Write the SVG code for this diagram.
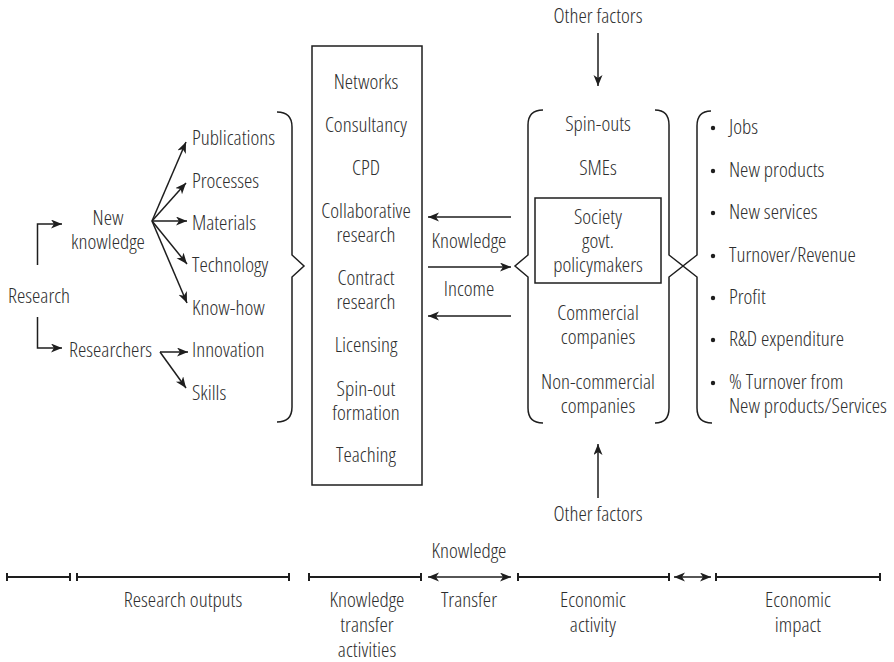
<svg xmlns="http://www.w3.org/2000/svg" width="894" height="662" viewBox="0 0 894 662">
<style>
text{font-family:"Open Sans","Liberation Sans",sans-serif;font-size:19.5px;font-weight:300;font-stretch:condensed;fill:#2e2e2e;transform-box:fill-box;transform-origin:0 50%;transform:scaleX(1.08)}
.m{text-anchor:middle;transform-origin:50% 50%}
.ln{fill:none;stroke:#1e1e1e;stroke-width:1.5}
.tl{fill:none;stroke:#1e1e1e;stroke-width:2}
</style>
<defs>
<marker id="ah" markerUnits="userSpaceOnUse" markerWidth="12" markerHeight="10" refX="11" refY="4.5" orient="auto-start-reverse">
<path d="M0,0 L11,4.5 L0,9 L3,4.5 z" fill="#1e1e1e"/>
</marker>
</defs>
<g id="research"><text x="8" y="303">Research</text></g>
<g id="new-knowledge"><text class="m" x="108" y="225">New</text><text class="m" x="108" y="249">knowledge</text></g>
<g id="researchers"><text x="69" y="357">Researchers</text></g>
<g id="outputs">
<text x="192" y="145">Publications</text>
<text x="192" y="188">Processes</text>
<text x="192" y="230">Materials</text>
<text x="192" y="272">Technology</text>
<text x="192" y="315">Know-how</text>
<text x="192" y="357">Innovation</text>
<text x="192" y="400">Skills</text>
<path class="ln" d="M277,112 Q292,112 292,127 L292,255 L304,266 L292,277 L292,407 Q292,422 277,422"/>
</g>
<g id="kt-activities">
<rect class="ln" x="312" y="46" width="110" height="439"/>
<text class="m" x="366" y="89">Networks</text>
<text class="m" x="366" y="132">Consultancy</text>
<text class="m" x="366" y="175">CPD</text>
<text class="m" x="366" y="218">Collaborative</text>
<text class="m" x="366" y="242">research</text>
<text class="m" x="366" y="285">Contract</text>
<text class="m" x="366" y="309">research</text>
<text class="m" x="366" y="352">Licensing</text>
<text class="m" x="366" y="396">Spin-out</text>
<text class="m" x="366" y="420">formation</text>
<text class="m" x="366" y="462">Teaching</text>
</g>
<g id="transfer-labels">
<text class="m" x="469" y="248">Knowledge</text>
<text class="m" x="469" y="296">Income</text>
</g>
<g id="economic-activity">
<path class="ln" d="M543,110 Q528,110 528,125 L528,255 L515,266 L528,277 L528,408 Q528,423 543,423"/>
<path class="ln" d="M655,110 Q669,110 669,125 L669,255 L683,266 L669,277 L669,408 Q669,423 655,423"/>
<text class="m" x="598" y="131">Spin-outs</text>
<text class="m" x="598" y="175">SMEs</text>
<rect class="ln" x="535" y="198" width="126" height="85"/>
<text class="m" x="598" y="224">Society</text>
<text class="m" x="598" y="248">govt.</text>
<text class="m" x="598" y="272">policymakers</text>
<text class="m" x="598" y="320">Commercial</text>
<text class="m" x="598" y="344">companies</text>
<text class="m" x="598" y="389">Non-commercial</text>
<text class="m" x="598" y="413">companies</text>
</g>
<g id="other-factors-top"><text class="m" x="598" y="23">Other factors</text></g>
<g id="other-factors-bottom"><text class="m" x="598" y="521">Other factors</text></g>
<g id="economic-impact">
<path class="ln" d="M711,111 Q697,111 697,126 L697,255 L683,266 L697,277 L697,408 Q697,423 712,423"/>
<g fill="#1e1e1e">
<circle cx="713" cy="128" r="2.2"/><circle cx="713" cy="171" r="2.2"/><circle cx="713" cy="213" r="2.2"/><circle cx="713" cy="256" r="2.2"/><circle cx="713" cy="298" r="2.2"/><circle cx="713" cy="340" r="2.2"/><circle cx="713" cy="383" r="2.2"/>
</g>
<text x="729" y="134">Jobs</text>
<text x="729" y="177">New products</text>
<text x="729" y="219">New services</text>
<text x="729" y="262">Turnover/Revenue</text>
<text x="729" y="304">Profit</text>
<text x="729" y="346">R&amp;D expenditure</text>
<text x="729" y="389">% Turnover from</text>
<text x="729" y="413">New products/Services</text>
</g>
<g id="connectors">
<path class="ln" d="M37.5,265 L37.5,224 L62,224" marker-end="url(#ah)"/>
<path class="ln" d="M37.5,317 L37.5,348 L62,348" marker-end="url(#ah)"/>
<path class="ln" d="M152,221 L186,142" marker-end="url(#ah)"/>
<path class="ln" d="M152,221 L186,183" marker-end="url(#ah)"/>
<path class="ln" d="M152,221 L187,221" marker-end="url(#ah)"/>
<path class="ln" d="M152,221 L187,264" marker-end="url(#ah)"/>
<path class="ln" d="M152,221 L187,303" marker-end="url(#ah)"/>
<path class="ln" d="M160,352 L188,352" marker-end="url(#ah)"/>
<path class="ln" d="M160,352 L186,388" marker-end="url(#ah)"/>
<path class="ln" d="M511,217 L428,217" marker-end="url(#ah)"/>
<path class="ln" d="M428,267 L511,267" marker-end="url(#ah)"/>
<path class="ln" d="M511,316 L428,316" marker-end="url(#ah)"/>
<path class="ln" d="M598,33 L598,86" marker-end="url(#ah)"/>
<path class="ln" d="M598,498 L598,444" marker-end="url(#ah)"/>
</g>
<g id="timeline">
<path class="tl" d="M7,577 H70 M7,573 V581 M70,573 V581"/>
<path class="tl" d="M77,577 H289 M77,573 V581 M289,573 V581"/>
<path class="tl" d="M309,577 H421 M309,573 V581 M421,573 V581"/>
<path class="ln" d="M428,577 H511" marker-start="url(#ah)" marker-end="url(#ah)"/>
<path class="tl" d="M518,577 H669 M518,573 V581 M669,573 V581"/>
<path class="ln" d="M674,577 H711" marker-start="url(#ah)" marker-end="url(#ah)"/>
<path class="tl" d="M716,577 H880 M716,573 V581 M880,573 V581"/>
<text class="m" x="183" y="607">Research outputs</text>
<text class="m" x="367" y="607">Knowledge</text>
<text class="m" x="367" y="632">transfer</text>
<text class="m" x="367" y="657">activities</text>
<text class="m" x="469" y="558">Knowledge</text>
<text class="m" x="469" y="607">Transfer</text>
<text class="m" x="593" y="607">Economic</text>
<text class="m" x="593" y="632">activity</text>
<text class="m" x="798" y="607">Economic</text>
<text class="m" x="798" y="632">impact</text>
</g>
</svg>
